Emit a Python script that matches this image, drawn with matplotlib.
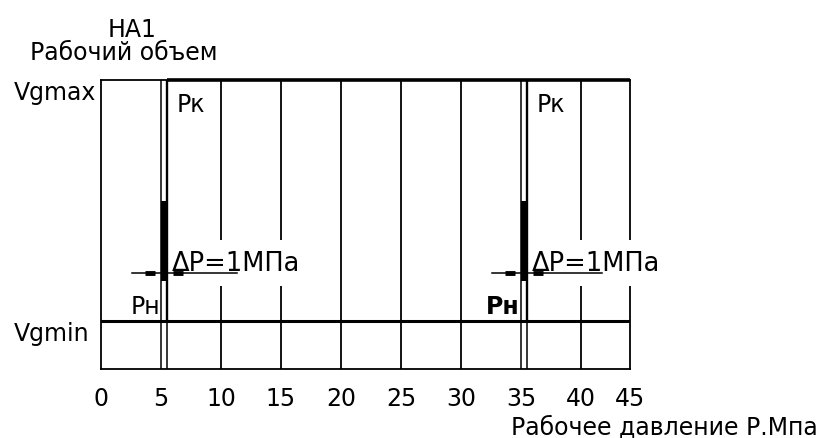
import matplotlib.pyplot as plt
import numpy as np

plt.rcParams['font.family'] = ['DejaVu Sans']
plt.rcParams['font.size'] = 17

# Характеристика регулятора насоса НА1
pressure_ticks = [0, 5, 10, 15, 20, 25, 30, 35, 40, 45]
grid_p = [10, 15, 20, 25, 30, 40]
vg_levels = [1.0, 6.0]          # Vgmin, Vgmax (условные ед.)
vg_labels = ["Vgmin", "Vgmax"]
p_n = [5.0, 35.0]               # начало регулирования, МПа
p_k = [5.5, 35.5]               # конец регулирования, МПа
band_y = [1.83, 3.49]           # зачерненная зона перехода
dim_y = 2.0                     # размерная линия ΔP
dim_start = [2.6, 32.6]
dim_end = [11.3, 42.1]
arrow_l = [4.1, 34.1]
arrow_r = [6.4, 36.4]

# последний интервал 40-45 на чертеже сжат
k = 0.817
def fwd(x):
    x = np.asarray(x, float)
    return np.where(x <= 40, x, 40 + (x - 40) * k)
def inv(x):
    x = np.asarray(x, float)
    return np.where(x <= 40, x, 40 + (x - 40) / k)

fig = plt.figure(figsize=(8.24, 4.39), dpi=100)
ax = fig.add_axes([101 / 824, 69 / 439, 529 / 824, 289 / 439])
ax.set_xscale('function', functions=(fwd, inv))
ax.set_xlim(0, 45)
ax.set_ylim(0, 6)

for s in ax.spines.values():
    s.set_linewidth(1.3)
    s.set_zorder(2)

for p in grid_p:
    ax.axvline(p, color='k', lw=1.3, zorder=1)
ax.axhline(vg_levels[0], color='k', lw=2.2, zorder=2)

# характеристика
ax.plot([p_k[0], 45], [vg_levels[1]] * 2, color='k', lw=2.6,
        solid_capstyle='butt', clip_on=False, zorder=6)
for i in range(2):
    ax.plot([p_n[i]] * 2, [0, vg_levels[1]], color='k', lw=1.1, zorder=5)
    ax.plot([p_k[i]] * 2, [0, vg_levels[0]], color='k', lw=1.1, zorder=5)
    ax.plot([p_k[i]] * 2, [vg_levels[0], vg_levels[1]], color='k', lw=1.7, zorder=5)
    ax.fill_betweenx(band_y, p_n[i], p_k[i], color='k', lw=0, zorder=5)

    ax.plot([dim_start[i], dim_end[i]], [dim_y] * 2, color='k', lw=1.1, zorder=6)
    ax.plot([arrow_l[i], arrow_r[i]], [dim_y] * 2, ls='none', marker='_',
            ms=7, mew=3.5, color='k', zorder=6)
    ax.text(p_k[i] + 0.4, 2.2, "ΔP=1МПа", ha='left', va='center', zorder=3,
            fontsize=18.5,
            bbox=dict(boxstyle='square,pad=0.4', fc='white', ec='none'))
    ax.text(p_k[i] + 0.8, 5.5, "Pк", ha='left', va='center', zorder=4)
    ax.text(p_n[i] - 0.1, vg_levels[0] + 0.06, "Pн", ha='right', va='bottom',
            fontweight='bold' if i == 1 else 'normal', zorder=4)

ax.set_xticks(pressure_ticks, [str(t) for t in pressure_ticks])
ax.set_yticks(vg_levels, vg_labels)
ax.tick_params(axis='x', length=0, pad=12)
ax.tick_params(axis='y', length=0, pad=63)
for lab in ax.get_yticklabels():
    lab.set_horizontalalignment('left')
    lab.set_verticalalignment('top')

fig.text(132 / 824, 1 - 30 / 439, "НА1", ha='center', va='center')
fig.text(124 / 824, 1 - 53 / 439, "Рабочий объем", ha='center', va='center')
fig.text(818 / 824, 1 - 428 / 439, "Рабочее давление Р.Мпа", ha='right', va='center')

fig.savefig("out.png", dpi=100)
